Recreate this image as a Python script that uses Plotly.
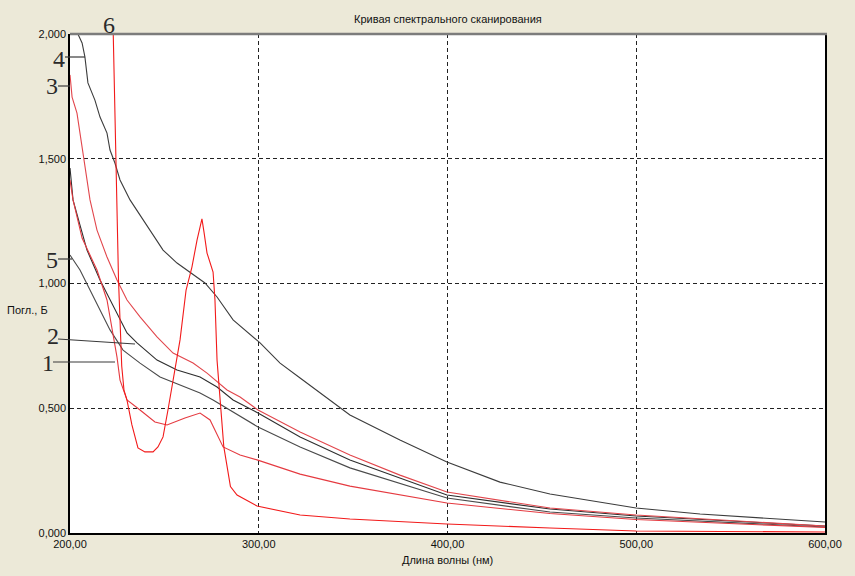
import plotly.graph_objects as go

# ---------------- data ----------------
wl_1 = [200, 201.6, 206.4, 214.3, 219.6, 222.8, 224.9, 226.5, 230.2, 237.1, 245.0, 251.4, 260.9, 268.9,
        274.2, 281.1, 290.1, 299.1, 321.9, 348.3, 399.7, 454.3, 499.9, 600]
abs_1 = [1.415, 1.335, 1.182, 1.054, 0.934, 0.802, 0.705, 0.613, 0.533, 0.493, 0.445, 0.433, 0.461, 0.481,
         0.453, 0.345, 0.313, 0.293, 0.236, 0.188, 0.120, 0.078, 0.054, 0.022]

wl_2 = [200, 201.6, 205.3, 209.0, 215.9, 221.2, 230.2, 235.5, 246.1, 256.7, 268.9, 277.9, 286.4, 299.6,
        321.9, 348.3, 399.7, 454.3, 499.9, 600]
abs_2 = [1.463, 1.335, 1.234, 1.134, 1.014, 0.934, 0.802, 0.762, 0.693, 0.653, 0.625, 0.585, 0.533, 0.481,
         0.385, 0.293, 0.152, 0.096, 0.068, 0.028]

wl_3 = [200, 201.1, 203.7, 205.3, 206.9, 209.5, 210.6, 214.3, 219.6, 224.9, 230.2, 237.1, 246.1, 254.6,
        265.2, 272.6, 283.2, 290.1, 299.6, 321.9, 348.3, 374.8, 399.7, 454.3, 499.9, 600]
abs_3 = [1.836, 1.747, 1.683, 1.603, 1.507, 1.387, 1.335, 1.214, 1.106, 1.014, 0.934, 0.866, 0.786, 0.721,
         0.681, 0.641, 0.573, 0.545, 0.493, 0.405, 0.313, 0.232, 0.164, 0.100, 0.072, 0.028]

wl_4 = [200, 202, 204.2, 206.4, 207.9, 209.5, 213.2, 215.9, 219.6, 221.2, 223.8, 226.5, 231.8, 238.7,
        242.4, 249.3, 256.7, 263.6, 271.5, 277.9, 286.4, 300.7, 311.3, 321.9, 348.3, 374.8, 399.7,
        427.8, 454.3, 499.9, 533.8, 600]
abs_4 = [2.2, 2.08, 2.000, 1.964, 1.908, 1.804, 1.735, 1.667, 1.603, 1.535, 1.483, 1.415, 1.335, 1.255,
         1.214, 1.134, 1.082, 1.046, 1.002, 0.946, 0.854, 0.762, 0.681, 0.621, 0.473, 0.373, 0.285,
         0.204, 0.156, 0.100, 0.076, 0.044]

wl_5 = [200, 201.1, 205.3, 210.6, 215.9, 221.2, 228.1, 237.1, 247.7, 258.3, 268.9, 275.8, 287.4, 299.6,
        321.9, 348.3, 399.7, 454.3, 499.9, 600]
abs_5 = [1.114, 1.102, 1.054, 0.974, 0.894, 0.814, 0.733, 0.681, 0.625, 0.593, 0.561, 0.533, 0.481, 0.425,
         0.345, 0.261, 0.140, 0.084, 0.060, 0.024]

wl_6 = [222.3, 222.9, 223.6, 224.7, 225.7, 226.5, 227.4, 228.6, 230.2, 232.8, 236.0, 239.7, 244.0, 246.6,
        249.3, 251.9, 254.6, 258.3, 261.5, 264.6, 267.3, 269.9, 271.0, 272.6, 275.8, 276.8, 277.9,
        278.8, 281.5, 285.0, 288.5, 299.1, 321.9, 348.3, 399.7, 454.3, 499.9, 600]
abs_6 = [2.216, 2.000, 1.735, 1.335, 1.014, 0.854, 0.669, 0.573, 0.533, 0.433, 0.341, 0.325, 0.325, 0.345,
         0.385, 0.493, 0.613, 0.774, 0.974, 1.066, 1.174, 1.259, 1.206, 1.122, 1.046, 0.934, 0.693,
         0.613, 0.345, 0.186, 0.152, 0.108, 0.072, 0.056, 0.036, 0.020, 0.008, 0.004]

x_ticks = [200, 300, 400, 500, 600]
x_tick_text = ["200,00", "300,00", "400,00", "500,00", "600,00"]
y_ticks = [0, 0.5, 1.0, 1.5, 2.0]
y_tick_text = ["0,000", "0,500", "1,000", "1,500", "2,000"]

title_text = "Кривая спектрального сканирования"
x_title = "Длина волны (нм)"
y_title = "Погл., Б"

# ---------------- figure ----------------
W, H = 855, 576
L, R, T, B = 70, 30, 34, 43
PW, PH = W - L - R, H - T - B


def px(x):
    return (x - L) / PW


def py(y):
    return (H - B - y) / PH


fig = go.Figure()

dark = "#3a3a3a"
series = [
    (wl_4, abs_4, "#3c3c3c"),
    (wl_2, abs_2, "#2e2e2e"),
    (wl_5, abs_5, "#4a4a4a"),
    (wl_3, abs_3, "#e2464c"),
    (wl_1, abs_1, "#e53a40"),
    (wl_6, abs_6, "#f21a1a"),
]
for xs, ys, c in series:
    fig.add_trace(go.Scatter(x=xs, y=ys, mode="lines", line=dict(color=c, width=1.1),
                             showlegend=False, hoverinfo="skip"))

font_ui = "Liberation Sans, Arial, sans-serif"

fig.update_layout(
    width=W, height=H,
    margin=dict(l=L, r=R, t=T, b=B),
    paper_bgcolor="#ECE9D8",
    plot_bgcolor="#FFFFFF",
    showlegend=False,
    font=dict(family=font_ui, size=11, color="#111111"),
    xaxis=dict(range=[200, 600], tickvals=x_ticks, ticktext=x_tick_text,
               showgrid=True, gridcolor="#222222", griddash="4px,3px", gridwidth=1,
               showline=True, linecolor="#000000", linewidth=1.5, mirror=False,
               zeroline=False, ticks="", ticklen=0, tickfont=dict(size=11, color="#111111")),
    yaxis=dict(range=[0, 2.0], tickvals=y_ticks, ticktext=y_tick_text,
               showgrid=True, gridcolor="#222222", griddash="4px,3px", gridwidth=1,
               showline=True, linecolor="#000000", linewidth=1.5, mirror=True,
               zeroline=False, ticks="", ticklen=0, tickfont=dict(size=11, color="#111111")),
)

shapes = [
    # gray top border
    dict(type="line", xref="paper", yref="paper", x0=0, x1=px(827), y0=1, y1=1,
         line=dict(color="#7c7c7c", width=2.5)),
]
# leader lines for curve labels
leaders = [
    ((65, 57), (85, 57)),
    ((58, 86), (70, 86)),
    ((58, 259), (72, 259)),
    ((58, 339), (135, 344)),
    ((53, 362), (115, 362)),
]
for (a, b) in leaders:
    shapes.append(dict(type="line", xref="paper", yref="paper",
                       x0=px(a[0]), y0=py(a[1]), x1=px(b[0]), y1=py(b[1]),
                       line=dict(color=dark, width=1.2)))
fig.update_layout(shapes=shapes)

labels = [("6", 109, 25), ("4", 59, 59), ("3", 52, 86), ("5", 52, 260), ("2", 53, 336), ("1", 48, 363)]
ann = []
for t, x, y in labels:
    ann.append(dict(text=t, x=px(x), y=py(y), xref="paper", yref="paper", showarrow=False,
                    xanchor="center", yanchor="middle",
                    font=dict(family="Liberation Serif, Times New Roman, serif", size=24, color="#2a2a2a")))
ann.append(dict(text=title_text, x=px(448), y=py(19), xref="paper", yref="paper", showarrow=False,
                xanchor="center", yanchor="middle", font=dict(family=font_ui, size=11, color="#111111")))
ann.append(dict(text=x_title, x=px(447.5), y=py(560), xref="paper", yref="paper", showarrow=False,
                xanchor="center", yanchor="middle", font=dict(family=font_ui, size=11, color="#111111")))
ann.append(dict(text=y_title, x=px(5), y=py(310), xref="paper", yref="paper", showarrow=False,
                xanchor="left", yanchor="middle", font=dict(family=font_ui, size=11, color="#111111")))
fig.update_layout(annotations=ann)

fig.write_html("out.html",
               config={"displayModeBar": False},
               post_script="document.body.style.margin='0';document.body.style.padding='0';"
                           "document.body.style.background='#ECE9D8';")
